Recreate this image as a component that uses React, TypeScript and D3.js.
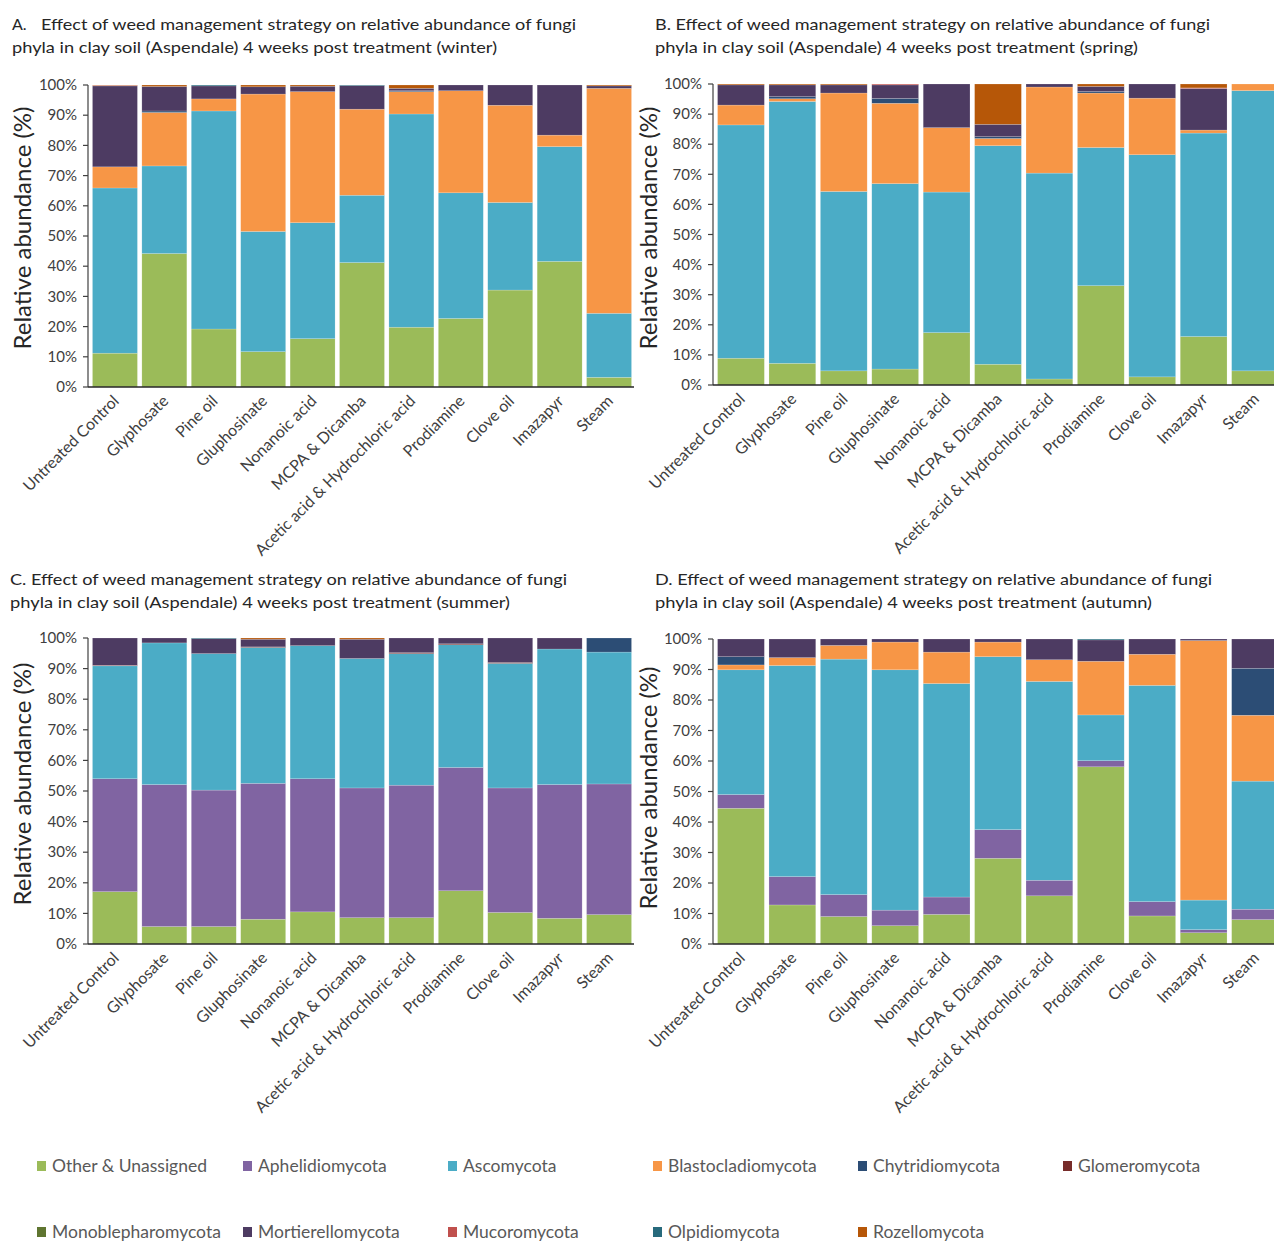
import React from 'react';
import * as d3 from 'd3';

const treatments = [
  'Untreated Control',
  'Glyphosate',
  'Pine oil',
  'Gluphosinate',
  'Nonanoic acid',
  'MCPA & Dicamba',
  'Acetic acid & Hydrochloric acid',
  'Prodiamine',
  'Clove oil',
  'Imazapyr',
  'Steam',
];

const phyla = [
  'Other & Unassigned',
  'Aphelidiomycota',
  'Ascomycota',
  'Blastocladiomycota',
  'Chytridiomycota',
  'Glomeromycota',
  'Monoblepharomycota',
  'Mortierellomycota',
  'Mucoromycota',
  'Olpidiomycota',
  'Rozellomycota',
];

const phylaColors = [
  '#9BBB59', '#8064A2', '#4BACC6', '#F79646', '#2C4D75', '#772C2A',
  '#5F7530', '#4D3B62', '#C0504D', '#276A7C', '#B65708',
];

// one row per treatment, columns follow the phyla order above (% of reads)
const winter = [
  [11.2, 0, 54.7, 7.0, 0, 0, 0, 26.8, 0.2, 0, 0.1],
  [44.2, 0, 29.0, 17.7, 0.5, 0, 0, 8.1, 0, 0, 0.5],
  [19.2, 0, 72.2, 4.0, 0, 0, 0, 4.3, 0, 0.3, 0],
  [11.7, 0, 39.8, 45.5, 0, 0, 0, 2.4, 0, 0, 0.6],
  [16.0, 0, 38.4, 43.4, 0, 0, 0, 1.8, 0, 0, 0.4],
  [41.2, 0, 22.3, 28.5, 0, 0, 0, 7.8, 0, 0.2, 0],
  [19.8, 0, 70.6, 7.4, 0.3, 0, 0, 0.8, 0, 0, 1.1],
  [22.7, 0, 41.6, 33.8, 0, 0, 0, 1.9, 0, 0, 0],
  [32.1, 0, 29.0, 32.2, 0, 0, 0, 6.7, 0, 0, 0],
  [41.6, 0, 38.0, 3.8, 0, 0, 0, 16.6, 0, 0, 0],
  [3.2, 0, 21.2, 74.5, 0, 0, 0, 0.8, 0, 0, 0.3],
];

const spring = [
  [8.9, 0, 77.5, 6.6, 0, 0, 0, 6.7, 0, 0, 0.3],
  [7.2, 0, 87.0, 0.9, 0.7, 0, 0, 3.9, 0, 0, 0.3],
  [4.7, 0, 59.6, 32.7, 0, 0, 0, 2.7, 0, 0, 0.3],
  [5.3, 0, 61.6, 26.7, 1.6, 0, 0, 4.5, 0.3, 0, 0],
  [17.4, 0, 46.7, 21.4, 0, 0, 0, 14.5, 0, 0, 0],
  [6.9, 0, 72.6, 2.4, 0.6, 0, 0, 4.1, 0, 0, 13.4],
  [2.0, 0, 68.4, 28.6, 0, 0, 0, 1.0, 0, 0, 0],
  [33.0, 0, 45.9, 18.1, 0.5, 0, 0, 1.7, 0, 0, 0.8],
  [2.7, 0, 73.8, 18.8, 0, 0, 0, 4.7, 0, 0, 0],
  [16.1, 0, 67.6, 1.0, 0, 0, 0, 13.8, 0.2, 0, 1.3],
  [4.7, 0, 93.1, 2.2, 0, 0, 0, 0, 0, 0, 0],
];

const summer = [
  [17.1, 36.9, 36.9, 0, 0, 0.2, 0, 8.9, 0, 0, 0],
  [5.7, 46.4, 46.3, 0, 0, 0, 0, 1.6, 0, 0, 0],
  [5.7, 44.6, 44.6, 0, 0, 0, 0, 4.9, 0, 0.2, 0],
  [8.1, 44.4, 44.4, 0, 0, 0.2, 0, 2.5, 0, 0, 0.4],
  [10.5, 43.5, 43.5, 0, 0, 0, 0, 2.5, 0, 0, 0],
  [8.6, 42.4, 42.3, 0, 0, 0, 0, 6.3, 0, 0, 0.4],
  [8.6, 43.3, 43.0, 0, 0, 0.3, 0, 4.8, 0, 0, 0],
  [17.4, 40.3, 40.1, 0, 0, 0.3, 0, 1.9, 0, 0, 0],
  [10.3, 40.7, 40.7, 0, 0, 0.3, 0, 8.0, 0, 0, 0],
  [8.4, 43.7, 44.3, 0, 0, 0, 0, 3.6, 0, 0, 0],
  [9.6, 42.7, 43.1, 0, 4.6, 0, 0, 0, 0, 0, 0],
];

const autumn = [
  [44.5, 4.5, 40.9, 1.6, 2.7, 0, 0, 5.8, 0, 0, 0],
  [12.8, 9.3, 69.2, 2.6, 0, 0, 0, 6.1, 0, 0, 0],
  [9.0, 7.2, 77.2, 4.5, 0, 0, 0, 2.1, 0, 0, 0],
  [6.0, 5.1, 78.8, 9.1, 0, 0, 0, 1.0, 0, 0, 0],
  [9.7, 5.7, 70.0, 10.3, 0, 0, 0, 4.3, 0, 0, 0],
  [28.1, 9.4, 56.7, 4.8, 0, 0, 0, 1.0, 0, 0, 0],
  [15.8, 5.1, 65.2, 7.1, 0, 0, 0, 6.8, 0, 0, 0],
  [58.1, 2.0, 15.0, 17.6, 0, 0, 0, 7.0, 0, 0.3, 0],
  [9.2, 4.7, 70.9, 10.2, 0, 0, 0, 5.0, 0, 0, 0],
  [3.7, 1.0, 9.7, 85.1, 0, 0, 0, 0.5, 0, 0, 0],
  [8.0, 3.4, 42.0, 21.6, 15.4, 0, 0, 9.6, 0, 0, 0],
];

const FONT = 'Lato, "Open Sans", sans-serif';

interface PanelProps {
  data: number[][];
  label: string;
  line1: string;
  line2: string;
  textX: number;
  restX: number;
  line1End: number;
  line2End: number;
  titleY: number;
  axisX: number;
  rangeEnd: number;
  top: number;
  bottom: number;
  yTitleX: number;
  yTitleY: number;
}

const Panel: React.FC<PanelProps> = ({
  data, label, line1, line2, textX, restX, line1End, line2End, titleY,
  axisX, rangeEnd, top, bottom, yTitleX, yTitleY,
}) => {
  const x = d3.scaleBand<string>()
    .domain(treatments)
    .range([axisX + 2, rangeEnd])
    .paddingInner(0.09)
    .paddingOuter(0.05);
  const y = d3.scaleLinear().domain([0, 100]).range([bottom, top]);

  const rows = data.map((r, i) => {
    const o: any = { treatment: treatments[i] };
    phyla.forEach((p, j) => { o[p] = r[j]; });
    return o;
  });
  const series = d3.stack<any>().keys(phyla)(rows);
  const fmt = (d: number) => `${d}%`;

  return (
    <g>
      {/* panel title */}
      <text x={textX} y={titleY} fontSize={16} fill="#262626" fontFamily={FONT}>{label}</text>
      <text x={restX} y={titleY} fontSize={16} fill="#262626" fontFamily={FONT}
        textLength={line1End - restX} lengthAdjust="spacingAndGlyphs">{line1}</text>
      <text x={textX} y={titleY + 23} fontSize={16} fill="#262626" fontFamily={FONT}
        textLength={line2End - textX} lengthAdjust="spacingAndGlyphs">{line2}</text>

      {/* stacked bars */}
      {series.map((s, k) => (
        <g key={phyla[k]} fill={phylaColors[k]}>
          {s.map((d, i) => (
            d[1] - d[0] > 0 ? (
              <rect
                key={i}
                x={x(treatments[i])}
                y={y(d[1])}
                width={x.bandwidth()}
                height={y(d[0]) - y(d[1])}
                stroke="#ffffff"
                strokeOpacity={0.35}
                strokeWidth={0.5}
              />
            ) : null
          ))}
        </g>
      ))}

      {/* y axis */}
      <line x1={axisX} x2={axisX} y1={top} y2={bottom} stroke="#404040" strokeWidth={1.2} />
      {y.ticks(10).map(t => (
        <g key={t}>
          <line x1={axisX - 5} x2={axisX} y1={y(t)} y2={y(t)} stroke="#404040" strokeWidth={1.2} />
          <text x={axisX - 11} y={y(t)} dy="0.35em" textAnchor="end" fontSize={15}
            fill="#404040" fontFamily={FONT}>{fmt(t)}</text>
        </g>
      ))}
      <text transform={`translate(${yTitleX},${yTitleY}) rotate(-90)`} textAnchor="middle"
        fontSize={24} fill="#262626" fontFamily={FONT}>Relative abundance (%)</text>

      {/* x axis */}
      <line x1={axisX} x2={rangeEnd} y1={bottom} y2={bottom} stroke="#262626" strokeWidth={1.6} />
      {treatments.map(t => (
        <text
          key={t}
          transform={`translate(${(x(t) as number) + x.bandwidth() / 2 + 5},${bottom + 15}) rotate(-45)`}
          textAnchor="end"
          fontSize={16}
          fill="#404040"
          fontFamily={FONT}
        >{t}</text>
      ))}
    </g>
  );
};

const legendRows = [phyla.slice(0, 6), phyla.slice(6)];
const legendX = [37, 243, 448, 653, 858, 1063];

const App: React.FC = () => (
  <svg width={1274} height={1243} style={{ position: 'absolute', left: 0, top: 0, background: '#fff' }}>
    <rect width={1274} height={1243} fill="#ffffff" />
    <Panel data={winter} label="A." restX={41} textX={12}
      line1="Effect of weed management strategy on relative abundance of fungi"
      line2="phyla in clay soil (Aspendale) 4 weeks post treatment (winter)"
      line1End={576} line2End={497} titleY={30}
      axisX={88} rangeEnd={634} top={85} bottom={387} yTitleX={31} yTitleY={228} />
    <Panel data={spring} label="" restX={655} textX={655}
      line1="B. Effect of weed management strategy on relative abundance of fungi"
      line2="phyla in clay soil (Aspendale) 4 weeks post treatment (spring)"
      line1End={1210} line2End={1138} titleY={30}
      axisX={713} rangeEnd={1281} top={84} bottom={385} yTitleX={657} yTitleY={228} />
    <Panel data={summer} label="" restX={10} textX={10}
      line1="C. Effect of weed management strategy on relative abundance of fungi"
      line2="phyla in clay soil (Aspendale) 4 weeks post treatment (summer)"
      line1End={567} line2End={510} titleY={585}
      axisX={88} rangeEnd={634} top={638} bottom={944} yTitleX={31} yTitleY={784} />
    <Panel data={autumn} label="" restX={655} textX={655}
      line1="D. Effect of weed management strategy on relative abundance of fungi"
      line2="phyla in clay soil (Aspendale) 4 weeks post treatment (autumn)"
      line1End={1212} line2End={1152} titleY={585}
      axisX={713} rangeEnd={1281} top={639} bottom={944} yTitleX={657} yTitleY={788} />

    {/* legend */}
    {legendRows.map((row, r) => row.map((name, i) => {
      const k = phyla.indexOf(name);
      const cy = r === 0 ? 1166 : 1232;
      return (
        <g key={name}>
          <rect x={legendX[i]} y={cy - 5} width={9} height={10} fill={phylaColors[k]} />
          <text x={legendX[i] + 15} y={cy} dy="0.36em" fontSize={17.5} fill="#595959"
            fontFamily={FONT}>{name}</text>
        </g>
      );
    }))}
  </svg>
);

export default App;
